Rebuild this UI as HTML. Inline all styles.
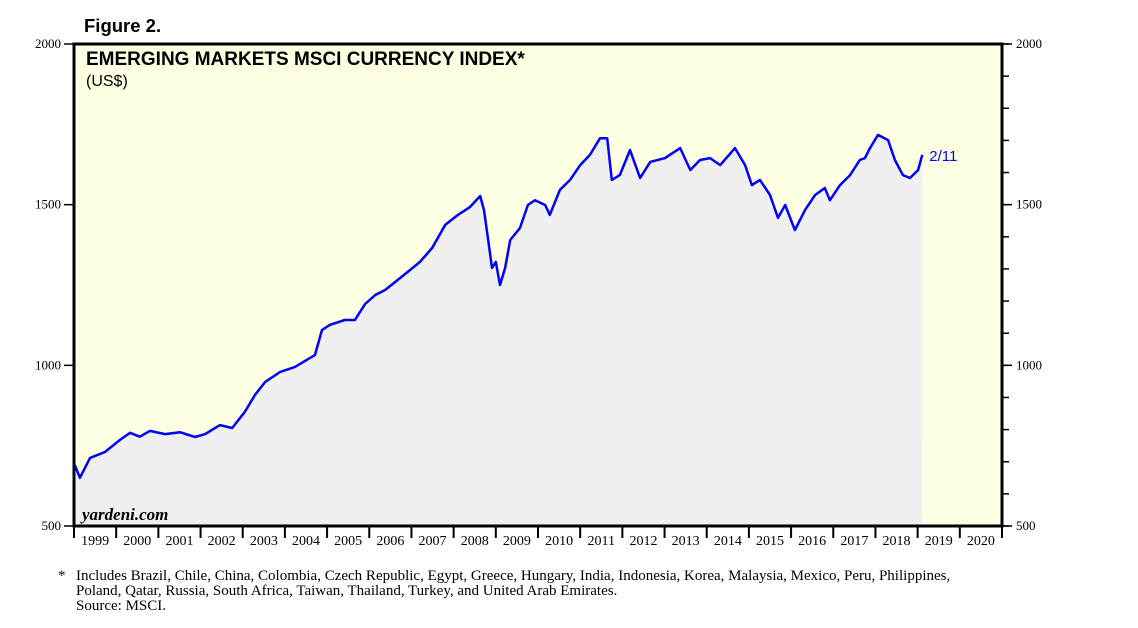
<!DOCTYPE html>
<html><head><meta charset="utf-8"><style>
body{margin:0;background:#fff;width:1138px;height:628px;overflow:hidden;font-family:"Liberation Sans",sans-serif}
svg{position:absolute;left:0;top:0}
</style></head><body>
<svg id="c" width="1138" height="628">
<text x="84" y="32" font-size="18.5" font-weight="bold" font-family="Liberation Sans">Figure 2.</text>
</svg>
<script>
const years=[1999.02,1999.14,1999.38,1999.73,2000.09,2000.33,2000.56,2000.80,2001.16,2001.51,2001.87,2002.11,2002.46,2002.75,2003.05,2003.29,2003.53,2003.88,2004.24,2004.48,2004.71,2004.88,2005.07,2005.42,2005.66,2005.90,2006.14,2006.37,2006.61,2006.97,2007.20,2007.49,2007.80,2008.10,2008.39,2008.63,2008.72,2008.82,2008.91,2009.00,2009.10,2009.22,2009.34,2009.57,2009.76,2009.93,2010.17,2010.28,2010.52,2010.76,2011.00,2011.23,2011.47,2011.64,2011.75,2011.94,2012.18,2012.42,2012.66,2013.01,2013.37,2013.61,2013.84,2014.08,2014.32,2014.67,2014.91,2015.07,2015.26,2015.50,2015.69,2015.86,2016.09,2016.33,2016.57,2016.80,2016.92,2017.16,2017.40,2017.63,2017.75,2017.87,2018.06,2018.30,2018.46,2018.65,2018.82,2019.01,2019.11];
const values=[690,650,712,730,768,790,778,796,786,792,777,786,814,805,855,908,948,979,995,1014,1032,1110,1126,1141,1141,1191,1219,1234,1259,1297,1322,1365,1437,1468,1493,1527,1483,1390,1303,1322,1250,1303,1390,1427,1499,1514,1499,1468,1546,1577,1623,1655,1707,1707,1577,1592,1670,1583,1633,1645,1676,1608,1639,1645,1623,1676,1623,1561,1577,1530,1459,1499,1421,1483,1530,1552,1514,1561,1592,1639,1645,1676,1717,1701,1639,1592,1583,1608,1655];
const yTicks=[500,1000,1500,2000];
const xLabels=[1999,2000,2001,2002,2003,2004,2005,2006,2007,2008,2009,2010,2011,2012,2013,2014,2015,2016,2017,2018,2019,2020];
const L=74,R=1002,T=44,B=526;
const X=y=>L+(y-1999)*(R-L)/22;
const Y=v=>B-(v-500)*(B-T)/1500;
const svg=document.getElementById('c');const NS='http://www.w3.org/2000/svg';
function mk(t,a,p){const e=document.createElementNS(NS,t);for(const k in a)e.setAttribute(k,a[k]);(p||svg).appendChild(e);return e;}
let bg=mk('rect',{x:L,y:T,width:R-L,height:B-T,fill:'#ffffe3'});


let pts=years.map((y,i)=>X(y).toFixed(1)+','+Y(values[i]).toFixed(1));
let area=mk('polygon',{points:X(years[0])+','+B+' '+pts.join(' ')+' '+X(years[years.length-1])+','+B,fill:'#f0f0f0'});


let line=mk('polyline',{points:pts.join(' '),fill:'none',stroke:'#0000ff','stroke-width':2.5,'stroke-linejoin':'round'});


let fr=mk('rect',{x:L,y:T,width:R-L,height:B-T,fill:'none',stroke:'#000','stroke-width':3});


for(let v=500;v<=2000;v+=100){const y=Y(v);mk('line',{x1:R,x2:R+7,y1:y,y2:y,stroke:'#000','stroke-width':1.5});}
yTicks.forEach(v=>{const y=Y(v);
mk('line',{x1:L-10,x2:L,y1:y,y2:y,stroke:'#000','stroke-width':1.5});
mk('line',{x1:R,x2:R+10,y1:y,y2:y,stroke:'#000','stroke-width':1.5});
let t=mk('text',{x:L-13,y:y+4,'text-anchor':'end','font-size':13,'font-family':'Liberation Serif'});t.textContent=v;


let t2=mk('text',{x:R+14,y:y+4,'font-size':13,'font-family':'Liberation Serif'});t2.textContent=v;

});
xLabels.forEach(yr=>{const x=X(yr);
mk('line',{x1:x,x2:x,y1:B,y2:B+12,stroke:'#000','stroke-width':2});
let t=mk('text',{x:x+(R-L)/44,y:B+19,'text-anchor':'middle','font-size':14,'font-family':'Liberation Serif'});t.textContent=yr;

});
mk('line',{x1:R,x2:R,y1:B,y2:B+12,stroke:'#000','stroke-width':2});
let lab=mk('text',{x:X(years[years.length-1])+7,y:Y(values[values.length-1])+6,'font-size':15,fill:'#0000ff'});lab.textContent='2/11';


</script>
<svg width="1138" height="628" style="pointer-events:none">
<text x="86" y="65" font-size="19" font-weight="bold">EMERGING MARKETS MSCI CURRENCY INDEX*</text>
<text x="86" y="86" font-size="16">(US$)</text>
<text x="82" y="520" font-size="17" font-style="italic" font-weight="bold" font-family="Liberation Serif">yardeni.com</text>
<g font-family="Liberation Serif" font-size="15">
<text x="58" y="580">*</text>
<text x="76" y="580">Includes Brazil, Chile, China, Colombia, Czech Republic, Egypt, Greece, Hungary, India, Indonesia, Korea, Malaysia, Mexico, Peru, Philippines,</text>
<text x="76" y="595">Poland, Qatar, Russia, South Africa, Taiwan, Thailand, Turkey, and United Arab Emirates.</text>
<text x="76" y="610">Source: MSCI.</text>
</g>
</svg>
</body></html>
